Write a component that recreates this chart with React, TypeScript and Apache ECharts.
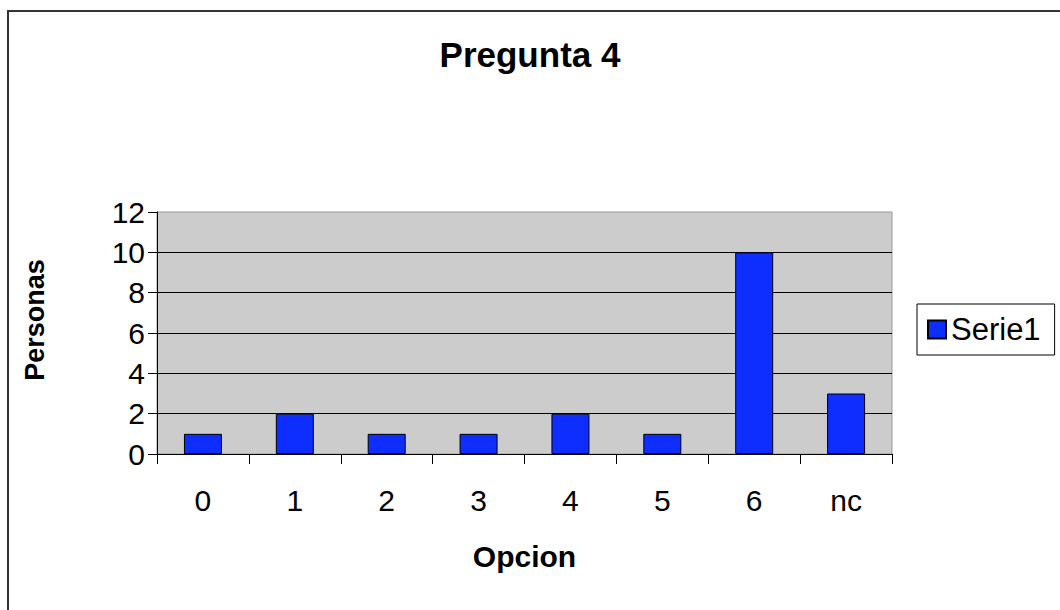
import React, { useEffect, useRef } from "react";
import * as echarts from "echarts";

const categories = ["0", "1", "2", "3", "4", "5", "6", "nc"];
const values = [1, 2, 1, 1, 2, 1, 10, 3];
const yTicks = [0, 2, 4, 6, 8, 10, 12];
const seriesName = "Serie1";
const titleText = "Pregunta 4";
const xName = "Opcion";
const yName = "Personas";

const FONT = '"Liberation Sans", Arial, Helvetica, sans-serif';

export default function App() {
  const ref = useRef<HTMLDivElement>(null);
  useEffect(() => {
    document.body.style.margin = "0";
    const chart = echarts.init(ref.current!, null, { renderer: "svg" });
    chart.setOption({
      animation: false,
      backgroundColor: "#fff",
      textStyle: { fontFamily: FONT, color: "#000" },
      title: {
        text: titleText,
        left: "center",
        top: 32,
        textStyle: { fontFamily: FONT, fontSize: 35, fontWeight: "bold", color: "#000" },
      },
      legend: {
        orient: "vertical",
        left: 917,
        top: 304,
        padding: [10, 14, 10, 10],
        backgroundColor: "#fff",
        borderColor: "#000",
        borderWidth: 1,
        itemWidth: 18,
        itemHeight: 18,
        itemGap: 5,
        icon: "rect",
        textStyle: { fontFamily: FONT, fontSize: 31, color: "#000" },
        data: [seriesName],
      },
      grid: {
        left: 157,
        right: 168,
        top: 212,
        bottom: 156,
        show: true,
        backgroundColor: "#CCCCCC",
        borderColor: "#999999",
        borderWidth: 1,
      },
      xAxis: {
        type: "category",
        data: categories,
        boundaryGap: true,
        name: xName,
        nameLocation: "middle",
        nameGap: 87,
        nameTextStyle: { fontFamily: FONT, fontSize: 30, fontWeight: "bold", color: "#000" },
        axisLine: { lineStyle: { color: "#000", width: 1 } },
        axisTick: { show: true, length: 10, alignWithLabel: false, lineStyle: { color: "#000" } },
        axisLabel: { fontFamily: FONT, fontSize: 30, color: "#000", margin: 31 },
      },
      yAxis: {
        type: "value",
        min: yTicks[0],
        max: yTicks[yTicks.length - 1],
        interval: 2,
        axisLine: { show: true, lineStyle: { color: "#000", width: 1 } },
        axisTick: { show: true, length: 9, lineStyle: { color: "#000" } },
        axisLabel: { fontFamily: FONT, fontSize: 30, color: "#000", margin: 12 },
        splitLine: { show: true, showMinLine: false, showMaxLine: false, lineStyle: { color: "#000", width: 1 } },
      },
      graphic: [
        {
          type: "text",
          x: 35,
          y: 320,
          rotation: Math.PI / 2,
          style: {
            text: yName,
            fontFamily: FONT,
            fontSize: 27,
            fontWeight: "bold",
            fill: "#000",
            align: "center",
            verticalAlign: "middle",
          },
        },
        {
          type: "rect",
          shape: { x: 8, y: 11, width: 1200, height: 800 },
          style: { fill: "none", stroke: "#333", lineWidth: 2 },
          silent: true,
        },
      ],
      series: [
        {
          name: seriesName,
          type: "bar",
          data: values,
          barWidth: 38,
          itemStyle: { color: "#0D2EFF", borderColor: "#000", borderWidth: 1 },
        },
      ],
    });
    return () => chart.dispose();
  }, []);
  return (
    <div
      ref={ref}
      style={{ position: "absolute", left: 0, top: 0, width: 1060, height: 610 }}
    />
  );
}
